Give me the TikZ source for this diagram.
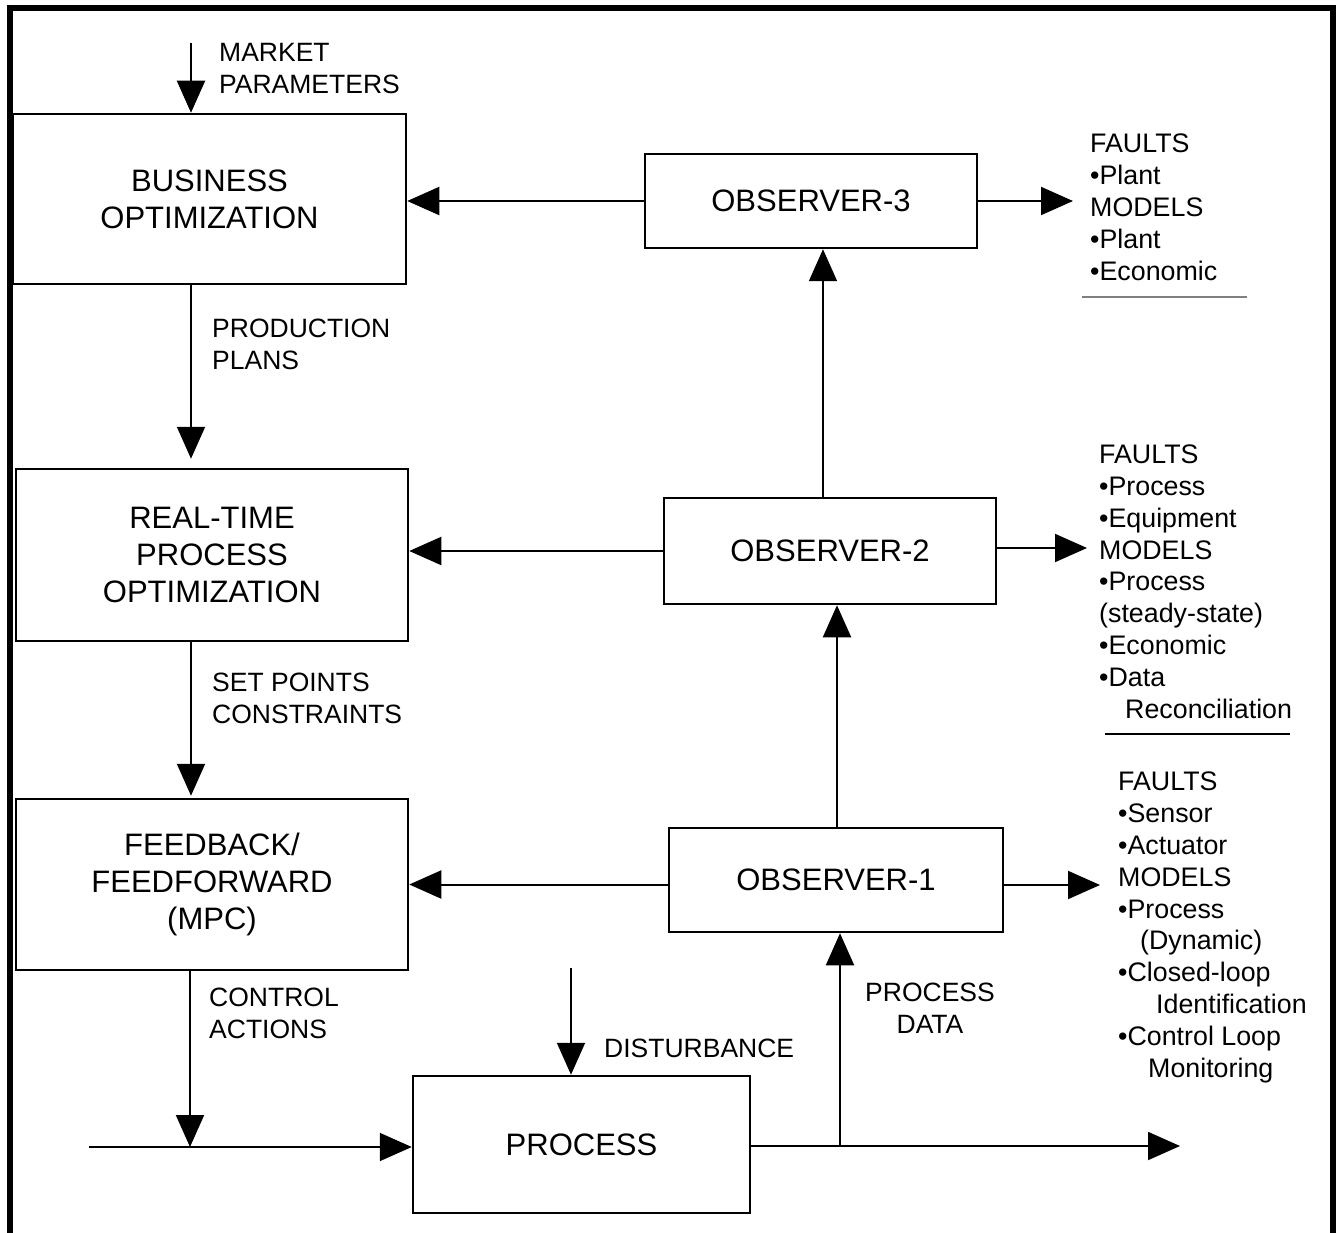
\documentclass[tikz,border=0pt]{standalone}
\usepackage{fontspec}
\setmainfont{Liberation Sans}
\usetikzlibrary{arrows.meta}
\begin{document}
\begin{tikzpicture}[x=1pt,y=-1pt,
 box/.style={draw,line width=2.5pt,align=center,inner sep=0pt,font=\fontsize{31}{37}\selectfont},
 lbl/.style={align=left,inner sep=0pt,anchor=base west,font=\fontsize{26.5}{32}\selectfont},
 lst/.style={align=left,inner sep=0pt,anchor=base west,font=\fontsize{26.8}{31.8}\selectfont},
 conn/.style={line width=2pt,-{Triangle[length=32pt,width=28pt]}},
 rule/.style={line width=1.5pt}]
\useasboundingbox (0,0) rectangle (1338,1233);
\draw[line width=6pt] (10,1233) -- (10,8) -- (1333,8) -- (1333,1233);

% boxes
\node[box,minimum width=393pt,minimum height=170pt] (bus) at (209.5,199) {BUSINESS\\OPTIMIZATION};
\node[box,minimum width=392pt,minimum height=172pt] (rto) at (212,555) {REAL-TIME\\PROCESS\\OPTIMIZATION};
\node[box,minimum width=392pt,minimum height=171pt] (ff) at (212,884.5) {FEEDBACK/\\FEEDFORWARD\\(MPC)};
\node[box,minimum width=337pt,minimum height=137pt] (proc) at (581.5,1144.5) {PROCESS};
\node[box,minimum width=332pt,minimum height=94pt] (obs3) at (811,201) {OBSERVER-3};
\node[box,minimum width=332pt,minimum height=106pt] (obs2) at (830,551) {OBSERVER-2};
\node[box,minimum width=334pt,minimum height=104pt] (obs1) at (836,880) {OBSERVER-1};

% labels (base anchor = baseline of last line)
\node[lbl] (market) at (219,94) {MARKET\\PARAMETERS};
\node[lbl] (prod) at (212,369) {PRODUCTION\\PLANS};
\node[lbl] (setp) at (212,723) {SET POINTS\\CONSTRAINTS};
\node[lbl] (ctrl) at (209,1038) {CONTROL\\ACTIONS};
\node[lbl] (dist) at (604,1057) {DISTURBANCE};
\node[lbl,align=center,anchor=base] (pdata) at (930,1033) {PROCESS\\DATA};

% lists
\node[lst] (l3) at (1090,280) {FAULTS\\•Plant\\MODELS\\•Plant\\•Economic};
\node[lst] (l2) at (1099,718) {FAULTS\\•Process\\•Equipment\\MODELS\\•Process\\(steady-state)\\•Economic\\•Data\\\hspace*{26pt}Reconciliation};
\node[lst] (l1) at (1118,1077) {FAULTS\\•Sensor\\•Actuator\\MODELS\\•Process\\\hspace*{22pt}(Dynamic)\\•Closed-loop\\\hspace*{38pt}Identification\\•Control Loop\\\hspace*{30pt}Monitoring};
\draw[rule,gray,line width=2pt] (1082,297) -- (1247,297);
\draw[rule] (1105,734) -- (1290,734);

% coordinates
\coordinate (mkt) at (191,43);
\coordinate (cx) at (190,1147);
\coordinate (inp) at (89,1147);
\coordinate (dtop) at (571,968);
\coordinate (out) at (1180,1146);
\coordinate (pd) at (840,1146);
\coordinate (o12) at (837,880);
\coordinate (o23) at (823,551);
\coordinate (t3) at (1073,201);
\coordinate (t2) at (1087,548);
\coordinate (t1) at (1100,885);

% left column flow
\draw[conn] (mkt) -- (mkt |- bus.north);
\draw[conn,shorten >=9pt] (bus.south -| mkt) -- (rto.north -| mkt);
\draw[conn,shorten >=2pt] (rto.south -| mkt) -- (ff.north -| mkt);
\draw[conn] (ff.south -| cx) -- (cx);
\draw[conn] (inp) -- (inp -| proc.west);
\draw[conn] (dtop) -- (dtop |- proc.north);
\draw[conn] (proc.east |- out) -- (out);
\draw[conn] (pd) -- (pd |- obs1.south);

% observers
\draw[conn] (o12 |- obs1.north) -- (o12 |- obs2.south);
\draw[conn] (o23 |- obs2.north) -- (o23 |- obs3.south);
\draw[conn] (obs3.west) -- (obs3.west -| bus.east);
\draw[conn] (obs2.west) -- (obs2.west -| rto.east);
\draw[conn] (obs1.west |- ff.east) -- (ff.east);
\draw[conn] (obs3.east |- t3) -- (t3);
\draw[conn] (obs2.east |- t2) -- (t2);
\draw[conn] (obs1.east |- t1) -- (t1);
\end{tikzpicture}
\end{document}
